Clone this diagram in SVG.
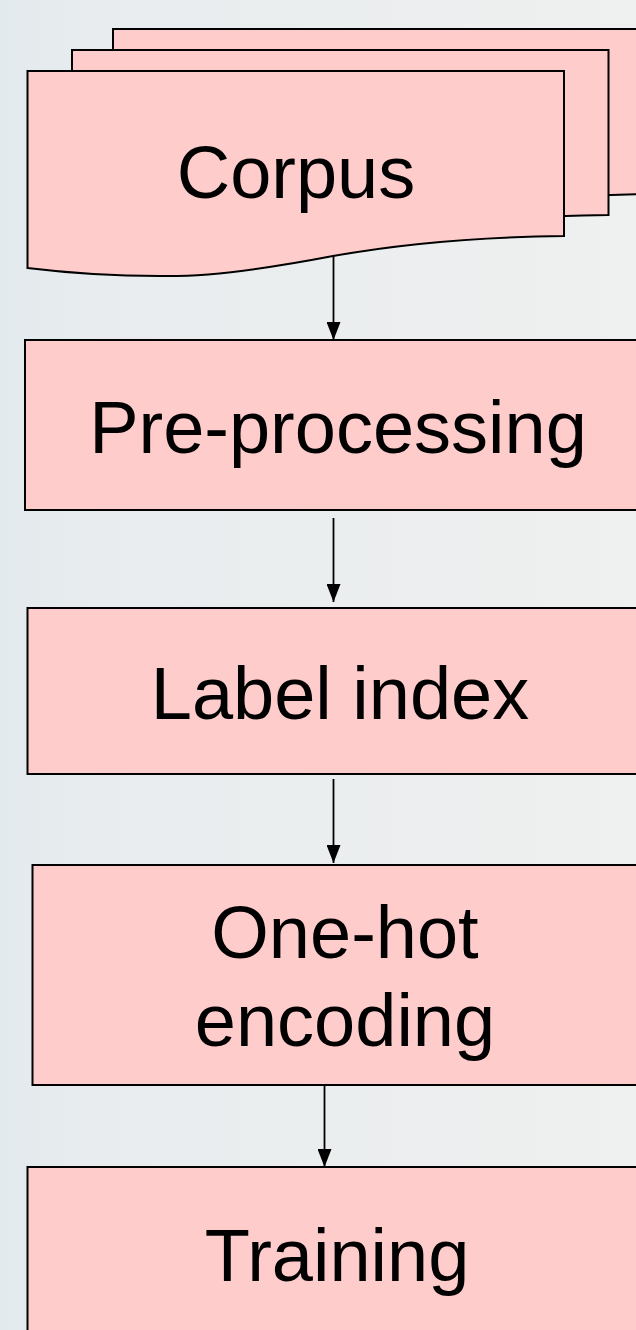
<svg xmlns="http://www.w3.org/2000/svg" width="636" height="1330" viewBox="0 0 636 1330">
  <style>
    .shape { fill: #ffcccc; stroke: #000000; stroke-width: 2; }
    .label { font-family: "Liberation Sans", Arial, sans-serif; font-size: 74px; fill: #000000; text-anchor: middle; }
    .conn { stroke: #000000; stroke-width: 1.8; fill: none; marker-end: url(#arrow); }
  </style>
  <defs>
    <linearGradient id="bg" x1="0" y1="0" x2="1" y2="0">
      <stop offset="0" stop-color="#e3eaed"/>
      <stop offset="0.15" stop-color="#e8ecee"/>
      <stop offset="1" stop-color="#eff0f0"/>
    </linearGradient>
    <marker id="arrow" viewBox="0 0 18 14" refX="18" refY="7" markerWidth="18" markerHeight="14" markerUnits="userSpaceOnUse" orient="auto">
      <path d="M0,0 L18,7 L0,14 Z" fill="#000000"/>
    </marker>
    <!-- document outline with wavy lower edge -->
    <path id="doc" d="M27.5,71 H564 V236 C470,237 400,244 333,256 C260,270 200,277 160,276 C110,276 60,272 27.5,268 Z"/>
  </defs>

  <rect x="0" y="0" width="636" height="1330" fill="url(#bg)"/>

  <!-- Corpus: stack of three documents -->
  <g id="corpus">
    <use href="#doc" class="shape" transform="translate(85.5,-42)"/>
    <use href="#doc" class="shape" transform="translate(44.5,-21)"/>
    <use href="#doc" class="shape"/>
    <text class="label" x="296" y="198">Corpus</text>
  </g>

  <g id="preprocessing">
    <rect class="shape" x="25" y="340" width="640" height="170"/>
    <text class="label" x="338" y="453">Pre-processing</text>
  </g>

  <g id="label-index">
    <rect class="shape" x="27.5" y="608" width="640" height="166"/>
    <text class="label" x="340" y="719">Label index</text>
  </g>

  <g id="one-hot">
    <rect class="shape" x="32.5" y="865" width="640" height="220"/>
    <text class="label" x="345" y="958">One-hot</text>
    <text class="label" x="345" y="1046">encoding</text>
  </g>

  <g id="training">
    <rect class="shape" x="27.5" y="1167" width="640" height="200"/>
    <text class="label" x="337" y="1281">Training</text>
  </g>

  <g id="connectors">
    <line class="conn" x1="333.5" y1="255" x2="333.5" y2="340"/>
    <line class="conn" x1="333.5" y1="518" x2="333.5" y2="602"/>
    <line class="conn" x1="333.5" y1="779" x2="333.5" y2="863"/>
    <line class="conn" x1="324.5" y1="1084" x2="324.5" y2="1167"/>
  </g>
</svg>
